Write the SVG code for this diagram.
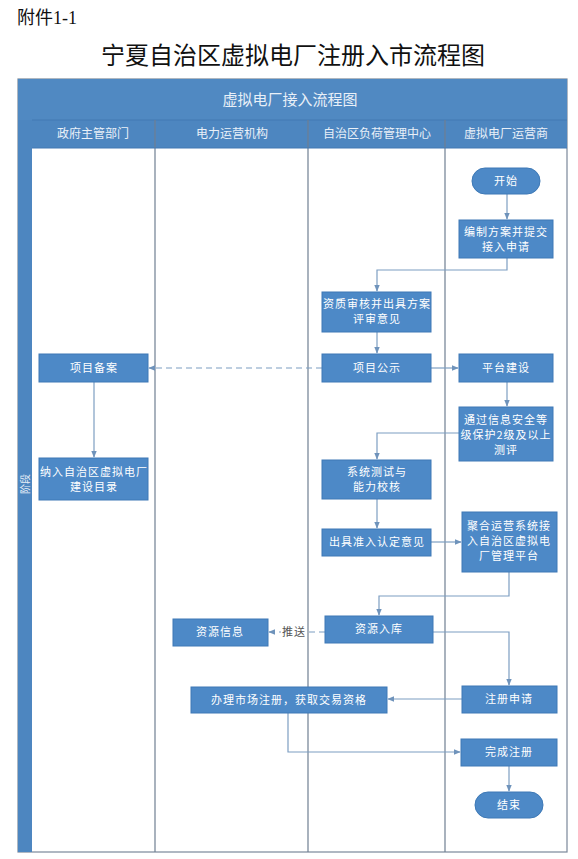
<svg xmlns="http://www.w3.org/2000/svg" width="578" height="859" viewBox="0 0 578 859">
<defs>
<style>
.box{fill:#4d89c7;stroke:#3e79b6;stroke-width:1}
.bt{fill:#ffffff;font-family:"Noto Sans CJK SC","Noto Sans",sans-serif;font-size:11px;text-anchor:middle;letter-spacing:1px}
.ln{fill:none;stroke:#7d9ec2;stroke-width:1.2}
.dash{stroke-dasharray:6,4}
.lane{stroke:#6f7f92;stroke-width:1.2;fill:none}
.hd{fill:#e9f0f8;font-family:"Noto Sans CJK SC","Noto Sans",sans-serif;text-anchor:middle}
</style>
<marker id="ah" viewBox="0 0 10 10" refX="9" refY="5" markerWidth="7" markerHeight="7" orient="auto" markerUnits="userSpaceOnUse">
<path d="M0,1 L10,5 L0,9 z" fill="#6f93bb"/>
</marker>
</defs>
<rect width="578" height="859" fill="#ffffff"/>
<text x="17" y="24" font-family="'Liberation Serif','Noto Sans CJK SC',serif" font-size="18" fill="#111">附件1-1</text>
<text x="293" y="64" font-family="'Noto Sans CJK SC',sans-serif" font-size="24" fill="#111" text-anchor="middle">宁夏自治区虚拟电厂注册入市流程图</text>

<g id="frame">
<rect x="18" y="79" width="549" height="773" fill="#ffffff" stroke="#7a8899" stroke-width="1.2"/>
<rect x="18" y="79" width="549" height="41" fill="#5089c2"/>
<rect x="18" y="120" width="549" height="28" fill="#4d86c0"/>
<line x1="32" y1="120" x2="567" y2="120" stroke="#4279b3" stroke-width="1"/>
<rect x="18" y="120" width="14" height="732" fill="#4d86c0"/>
<text class="hd" x="290" y="105" font-size="15">虚拟电厂接入流程图</text>
<text class="hd" x="93" y="138" font-size="12">政府主管部门</text>
<text class="hd" x="232" y="138" font-size="12">电力运营机构</text>
<text class="hd" x="377" y="138" font-size="12">自治区负荷管理中心</text>
<text class="hd" x="506" y="138" font-size="12">虚拟电厂运营商</text>
<text class="hd" transform="translate(29,484) rotate(-90)" font-size="10">阶段</text>
<line class="lane" x1="155" y1="120" x2="155" y2="852"/>
<line class="lane" x1="308" y1="120" x2="308" y2="852"/>
<line class="lane" x1="445" y1="120" x2="445" y2="852"/>
<line x1="32" y1="148" x2="567" y2="148" stroke="#4279b3" stroke-width="1"/>
</g>

<g id="connectors">
<line class="ln" x1="507" y1="194" x2="507" y2="219" marker-end="url(#ah)"/>
<polyline class="ln" points="507,258 507,270 377,270 377,291" marker-end="url(#ah)"/>
<line class="ln" x1="377" y1="332" x2="377" y2="353" marker-end="url(#ah)"/>
<line class="ln dash" x1="322" y1="368" x2="149" y2="368" marker-end="url(#ah)"/>
<line class="ln" x1="94" y1="382" x2="94" y2="457" marker-end="url(#ah)"/>
<line class="ln" x1="431" y1="368" x2="458" y2="368" marker-end="url(#ah)"/>
<line class="ln" x1="507" y1="382" x2="507" y2="406" marker-end="url(#ah)"/>
<polyline class="ln" points="459,433 377,433 377,459" marker-end="url(#ah)"/>
<line class="ln" x1="377" y1="499" x2="377" y2="528" marker-end="url(#ah)"/>
<line class="ln" x1="431" y1="542" x2="461" y2="542" marker-end="url(#ah)"/>
<polyline class="ln" points="509,572 509,596 379,596 379,615" marker-end="url(#ah)"/>
<line class="ln dash" x1="325" y1="632" x2="269" y2="632" marker-end="url(#ah)"/>
<rect x="281" y="624" width="26" height="16" fill="#ffffff"/>
<text x="294" y="636" font-family="'Noto Sans CJK SC',sans-serif" font-size="11" fill="#555" text-anchor="middle" letter-spacing="1">推送</text>
<polyline class="ln" points="433,632 509,632 509,685" marker-end="url(#ah)"/>
<line class="ln" x1="462" y1="699" x2="388" y2="699" marker-end="url(#ah)"/>
<polyline class="ln" points="288,713 288,752 460,752" marker-end="url(#ah)"/>
<line class="ln" x1="509" y1="766" x2="509" y2="791" marker-end="url(#ah)"/>
</g>

<g id="start"><rect class="box" x="472" y="168" width="68" height="26" rx="13"/><text class="bt" x="506" y="185">开始</text></g>
<g id="n1"><rect class="box" x="459" y="220" width="94" height="38"/><text class="bt" x="506" y="236">编制方案并提交</text><text class="bt" x="506" y="251">接入申请</text></g>
<g id="n2"><rect class="box" x="322" y="292" width="109" height="40"/><text class="bt" x="377" y="308">资质审核并出具方案</text><text class="bt" x="377" y="323">评审意见</text></g>
<g id="n3"><rect class="box" x="322" y="354" width="109" height="28"/><text class="bt" x="377" y="372">项目公示</text></g>
<g id="n4"><rect class="box" x="39" y="354" width="109" height="28"/><text class="bt" x="94" y="372">项目备案</text></g>
<g id="n5"><rect class="box" x="459" y="354" width="94" height="28"/><text class="bt" x="506" y="372">平台建设</text></g>
<g id="n6"><rect class="box" x="459" y="407" width="94" height="54"/><text class="bt" x="506" y="424">通过信息安全等</text><text class="bt" x="506" y="439">级保护2级及以上</text><text class="bt" x="506" y="454">测评</text></g>
<g id="n7"><rect class="box" x="39" y="458" width="109" height="42"/><text class="bt" x="94" y="476" letter-spacing="0.5">纳入自治区虚拟电厂</text><text class="bt" x="94" y="491">建设目录</text></g>
<g id="n8"><rect class="box" x="322" y="460" width="109" height="39"/><text class="bt" x="377" y="476">系统测试与</text><text class="bt" x="377" y="491">能力校核</text></g>
<g id="n9"><rect class="box" x="322" y="529" width="109" height="27"/><text class="bt" x="377" y="546">出具准入认定意见</text></g>
<g id="n10"><rect class="box" x="462" y="512" width="95" height="60"/><text class="bt" x="509" y="530">聚合运营系统接</text><text class="bt" x="509" y="545">入自治区虚拟电</text><text class="bt" x="509" y="560">厂管理平台</text></g>
<g id="n11"><rect class="box" x="325" y="616" width="108" height="27"/><text class="bt" x="379" y="633">资源入库</text></g>
<g id="n12"><rect class="box" x="173" y="619" width="95" height="27"/><text class="bt" x="220" y="636">资源信息</text></g>
<g id="n13"><rect class="box" x="462" y="686" width="95" height="27"/><text class="bt" x="509" y="703">注册申请</text></g>
<g id="n14"><rect class="box" x="191" y="687" width="196" height="26"/><text class="bt" x="289" y="704">办理市场注册，获取交易资格</text></g>
<g id="n15"><rect class="box" x="461" y="739" width="96" height="27"/><text class="bt" x="509" y="756">完成注册</text></g>
<g id="end"><rect class="box" x="475" y="792" width="68" height="26" rx="13"/><text class="bt" x="509" y="809">结束</text></g>
</svg>
